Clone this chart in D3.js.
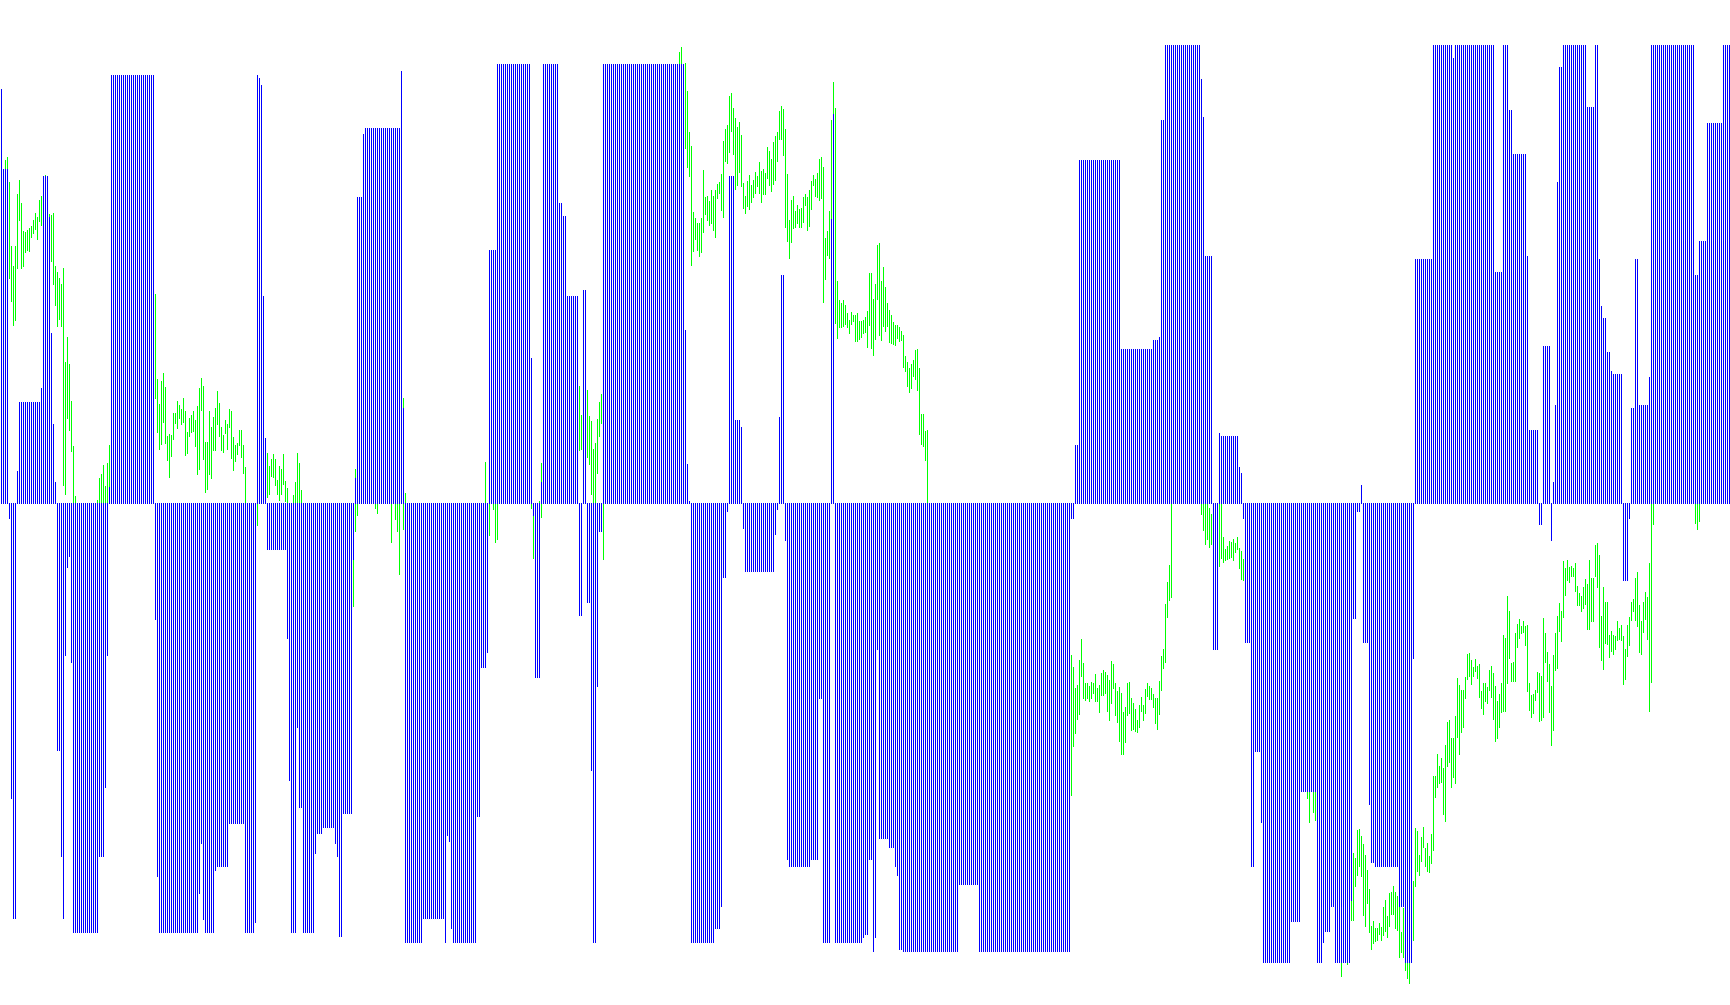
<!DOCTYPE html>
<html>
<head>
<meta charset="utf-8">
<script src="https://cdnjs.cloudflare.com/ajax/libs/d3/7.8.5/d3.min.js"></script>
<style>
html,body{margin:0;padding:0;background:#fff;overflow:hidden}
svg{display:block}
</style>
</head>
<body>
<div id="chart"></div>
<script>
// Histogram, run-length: how many consecutive bars share each level
const histCounts = [
 1,3,1,1,2,1,11,1,3,1,1,1,1,2,1,1,1,1,1,1,13,3,1,1,1,22,1,1,20,1,1,1,5,1,6,8,5,1,1,1,1,1,1,10,1,1,3,1,2,6,1,3,6,1,1,2,5,1,1,3,1,18,1,1,9,4,
 7,1,1,1,1,12,2,3,1,4,17,1,1,3,1,8,2,2,6,2,2,2,1,2,1,2,41,1,1,1,12,3,1,2,1,3,3,1,1,15,1,1,1,2,1,1,11,4,2,4,1,1,13,
 1,1,2,2,1,1,1,5,3,1,1,2,28,10,46,2,2,21,16,3,1,2,18,1,1,4,3,1,9,1,1,1,3,2,3,1,14,
 5,8,3,1,3,2,8,1,2,2,1,3,1,2,12,3,4,1,9,10,1,20,4,3,2,7,1,5,2,4,1,1,1,1,2,12,4,2,1,1,2,2,1,5,3,1,2,2,5,1,22,2,4,8,4
];
const histLevels = [
 646,521,-23,-460,-647,50,158,180,511,447,265,123,33,-385,-551,-647,-237,-100,-82,-248,-669,-551,-443,-237,25,668,-181,-582,-669,-608,-530,-649,-669,-572,-566,-499,-669,-654,668,663,652,323,102,-72,-210,-432,-669,-350,-474,-669,-546,-515,-505,-530,-551,-675,-483,-87,40,478,576,585,674,148,-685,-647,
 -647,-685,-518,-527,-663,-685,-488,-256,-232,395,685,226,-18,-271,33,685,468,448,323,-175,333,-154,-416,-685,-285,-43,685,270,61,3,-685,-663,-629,-115,-13,510,130,119,-39,-106,-48,-9,134,356,-58,-555,-566,-555,-304,-685,443,607,-685,
 -685,-677,-672,-555,-699,-677,-228,-522,-536,-566,-580,-695,-699,-594,-699,-23,91,535,240,255,259,598,715,662,602,386,-228,109,105,56,47,-23,-217,-566,-387,-497,-716,
 -652,-449,-716,-685,-668,-629,-716,-619,-179,-13,28,-217,-469,-560,-566,-629,-716,-242,381,715,695,715,361,715,613,545,386,114,-33,245,-58,33,153,501,680,715,618,715,381,308,289,236,206,201,-120,-23,148,381,153,197,715,356,409,593,715
];

// Price high-low bars, one block per unbroken stretch of visible bars
const greenStart = [2,48,77,128,133,146,176,187,195,197,201,242,244,246,265,269,289,293,339,535,600,609,653,656,670,673,675,847];
const greenHigh = [
 [1029,1037,963,771,711,771,927,969,900,816,813,819,825,831,849,870,858,909,921,970,984,975,867,864,870,711,693,675,657,705,423,498,417,306,171,21],
 [9,75,87,114,51,120,174],
 [627,372,297,366,390,348,201,207,204,270,270,306,294,282,315,276,213,255,264,276,249,291,345,375,351,183,183,276,228,258,285,336,300,228,204,249,237,282,276,198,174,180,219,219,174,108],
 [0],
 [150,111,132,147,132,69,111,102,147,66,45],
 [24,63,150,120,39],
 [-168,102,0],
 [0,0],
 [0],
 [0,0,0],
 [315,30],
 [123],
 [0],
 [0,0,0],
 [0,-36],
 [6,120],
 [351,264],
 [339,261,246,162,180,252,303,327,0],
 [1353,1368,1300,1320,1236,1113,1071,873,855,840,840,855,999,918,921,906,939,921,939,957,963,987,1086,1122,1134,1221,1230,1185,1155,1128,1143,1104,960,921,966,984,954,969,993,981,1023,996,1002,990,1068,1056,1032,1083,1101,1113,1176,1191,1182,1122,987,849,909,921,876,894,882,885,918,927,918,939,966,984,972,990,1032,1038,1008,795,816,876,1149,1263,1185,666,609,600,609,594,570,549,573,564,564,570,546,546,549,558,576,690,690,612,657,774,780,666,708,648,600,579,564,543,534,534,528,516,504,441,423,405,417,429,459,462,405,267,267,216,219],
 [-456,-492,-555,-546,-471,-408,-480,-540,-540,-549,-537,-540,-513,-555,-546,-510,-501,-507,-516,-531,-474,-483,-540,-564,-552,-570,-627,-612,-540,-537,-585,-600,-618,-651,-606,-582,-606,-558,-540,-549,-555,-573,-585,-585,-534,-459,-438,-303,-237,-186,0],
 [0,0,0,0,-15,-33],
 [0,0,-102,-138,-129,-114,-117,-108,-120,-102,-135,-144,-168],
 [-864,-864],
 [-864,-864],
 [-1377],
 [-1377],
 [-1191,-1050,-1065,-981,-978,-999,-1023,-1056,-1101,-1158,-1269,-1254,-1275,-1275,-1260,-1272,-1212,-1191,-1239,-1170,-1167,-1149,-1167,-1179,-1209,-1287,-1215,-1377,-1377,-1377,-1377,-1134,-975,-984,-1056,-1002,-972,-1035,-1020,-1059,-993,-819,-819,-753,-789,-765,-795,-726,-657,-651,-705,-705,-639,-525,-546,-561,-561,-522,-453,-450,-471,-492,-468,-489,-483,-564,-540,-540,-552,-501,-489,-510,-549,-594,-573,-540,-396,-405,-279,-324,-480,-477,-390,-363,-348,-369,-354,-369,-366,-540,-576,-573,-561,-507,-510,-519,-345,-390,-447,-483,-549,-456,-390,-339,-300,-324,-174,-195,-171,-192,-189,-195,-180,-249,-270,-279,-252,-228,-243,-171,-225,-225,-126,-120,-156,-339,-252,-297,-297,-396,-384,-396,-399,-354,-375,-366,-399,-438,-366,-342,-297,-288,-225,-207,-306,-354,-297,-267,-282,-180,0,0],
 [0,0,0]
];
const greenLow = [
 [960,960,671,603,531,546,701,846,701,707,750,756,753,795,807,819,789,843,831,900,900,880,800,723,654,591,528,549,528,51,24,252,216,153,0,0],
 [0,0,0,0,0,0,48],
 [312,210,159,174,240,177,126,75,138,189,237,222,252,234,240,141,147,198,210,213,168,84,99,276,129,30,39,84,72,156,156,234,198,156,150,207,159,225,132,96,123,144,171,135,87,0],
 [-69],
 [15,24,78,75,51,24,6,24,54,3,0],
 [0,0,0,0,0],
 [-313,-86,-38],
 [-18,-32],
 [-119],
 [-50,-86,-216],
 [-81,0],
 [0],
 [-98],
 [-21,-119,-111],
 [-18,-168],
 [0,-45],
 [156,159],
 [135,114,24,0,0,87,198,237,-171],
 [1250,1250,1250,1062,1005,978,711,753,789,756,738,750,810,864,846,831,837,816,795,912,927,876,855,1023,1017,1050,1113,1044,939,951,990,948,882,867,888,879,900,915,927,948,927,900,924,924,972,951,933,954,966,1023,1089,1089,1041,825,783,732,780,822,825,837,825,825,840,891,816,828,879,951,918,915,906,912,600,669,741,732,850,1100,537,492,525,525,528,534,525,507,534,543,483,483,489,495,507,510,465,531,462,441,489,609,501,486,528,513,528,480,477,474,471,492,483,486,405,393,348,330,342,378,369,336,204,174,168,126,0],
 [-879,-732,-693,-651,-636,-522,-588,-594,-588,-597,-588,-573,-597,-597,-630,-579,-579,-573,-627,-654,-603,-558,-639,-660,-717,-756,-756,-720,-639,-633,-684,-681,-687,-690,-675,-627,-654,-633,-582,-591,-591,-615,-663,-681,-636,-564,-498,-480,-345,-294,-285],
 [-36,-84,-126,-111,-135,-126],
 [-192,-168,-180,-174,-171,-168,-165,-174,-150,-141,-198,-231,-234],
 [-888,-960],
 [-930,-954],
 [-1422],
 [-1386],
 [-1254,-1254,-1152,-1119,-1092,-1122,-1239,-1272,-1203,-1290,-1341,-1323,-1317,-1314,-1296,-1314,-1299,-1287,-1305,-1272,-1236,-1236,-1278,-1284,-1365,-1350,-1365,-1404,-1428,-1443,-1380,-1314,-1152,-1107,-1119,-1077,-1035,-1092,-1107,-1110,-1083,-1044,-885,-855,-843,-840,-936,-957,-792,-780,-855,-825,-843,-705,-756,-690,-675,-588,-531,-522,-546,-522,-507,-528,-585,-618,-636,-597,-603,-564,-585,-651,-717,-708,-675,-630,-627,-627,-543,-468,-537,-537,-537,-435,-408,-393,-390,-429,-567,-624,-645,-633,-594,-570,-657,-654,-645,-480,-537,-630,-729,-684,-504,-498,-387,-417,-345,-279,-234,-240,-222,-222,-267,-309,-309,-327,-318,-306,-381,-381,-357,-357,-222,-255,-435,-474,-501,-423,-426,-465,-447,-456,-441,-414,-411,-414,-546,-531,-462,-429,-354,-327,-354,-372,-450,-456,-390,-351,-411,-627,-540,-66],
 [-63,-81,-58]
];

const width = 1730, height = 1005;
const barCount = d3.sum(histCounts);

// Expand the runs into one level per bar
const hist = d3.merge(histCounts.map((c, k) => d3.range(c).map(() => ({level: histLevels[k]}))));
hist.forEach((d, i) => d.i = i);

const green = d3.merge(greenStart.map((s, k) =>
  greenHigh[k].map((h, n) => ({i: s + n, high: h, low: greenLow[k][n]}))));

const x = d3.scaleLinear().domain([0, barCount]).range([1, 2 * barCount + 1]);
const yHist = d3.scaleLinear().domain([785, -783]).range([0, height]);
const yPrice = d3.scaleLinear().domain([1509, -1506]).range([0, height]);

const svg = d3.select('#chart').append('svg')
  .attr('width', width).attr('height', height)
  .attr('viewBox', `0 0 ${width} ${height}`)
  .attr('shape-rendering', 'crispEdges');

svg.append('rect').attr('width', width).attr('height', height).attr('fill', '#fff');

svg.append('g').attr('fill', '#00ff00').selectAll('rect').data(green).join('rect')
  .attr('x', d => x(d.i))
  .attr('width', 1)
  .attr('y', d => Math.round(yPrice(d.high)))
  .attr('height', d => Math.max(1, Math.round(yPrice(d.low)) - Math.round(yPrice(d.high))));

const base = Math.floor(yHist(0));
svg.append('g').attr('fill', '#0000ff').selectAll('rect').data(hist).join('rect')
  .attr('x', d => x(d.i))
  .attr('width', 1)
  .attr('y', d => d.level >= 0 ? Math.round(yHist(d.level)) : base)
  .attr('height', d => d.level >= 0
      ? base + 1 - Math.round(yHist(d.level))
      : Math.round(yHist(d.level)) - base + 1);
</script>
</body>
</html>
